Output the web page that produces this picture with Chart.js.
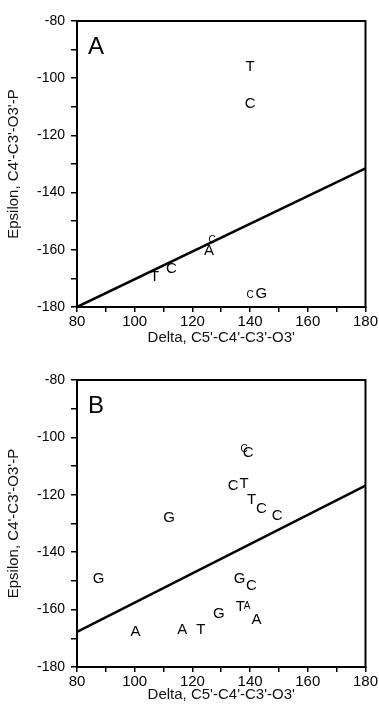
<!DOCTYPE html>
<html lang="en">
<head>
<meta charset="UTF-8">
<title>Delta vs Epsilon</title>
<script src="https://cdn.jsdelivr.net/npm/chart.js"></script>
<style>
    body { margin: 0; padding: 0; background: #fff; }
    .panel { width: 379px; height: 357px; }
</style>
</head>
<body>
<div class="panel"><canvas id="chartA" width="379" height="357"></canvas></div>
<div class="panel"><canvas id="chartB" width="379" height="357"></canvas></div>
<script>
// Panel A
const deltaA = [140, 140, 125.8, 106.9, 112.7, 143.9];
const epsilonA = [-96, -109, -160.5, -169.5, -166.5, -175.3];
const lettersA = ['T', 'C', 'A', 'T', 'C', 'G'];
const smallDeltaA = [140, 126.8];
const smallEpsilonA = [-176, -156.5];
const smallLettersA = ['C', 'C'];
const lineDeltaA = [80, 180];
const lineEpsilonA = [-180, -131.5];

// Panel B
const deltaB = [139.3, 134.1, 137.9, 140.5, 143.9, 149.4, 111.9, 87.5, 136.4, 140.5, 136.6, 142.2, 129.2, 100.3, 116.5, 122.9];
const epsilonB = [-105.5, -116.9, -116.3, -121.8, -124.9, -127.2, -128.1, -149.3, -149.4, -151.6, -159.2, -163.5, -161.6, -167.6, -167.2, -167.2];
const lettersB = ['C', 'C', 'T', 'T', 'C', 'C', 'G', 'G', 'G', 'C', 'T', 'A', 'G', 'A', 'A', 'T'];
const smallDeltaB = [137.9, 139.0];
const smallEpsilonB = [-104.1, -158.9];
const smallLettersB = ['C', 'A'];
const lineDeltaB = [80, 180];
const lineEpsilonB = [-167.8, -116.8];

const xTitle = "Delta, C5'-C4'-C3'-O3'";
const yTitle = "Epsilon, C4'-C3'-O3'-P";
const FONT = "'Liberation Sans', Arial, Helvetica, sans-serif";

function toPoints(xs, ys) {
    return xs.map((x, i) => ({ x: x, y: ys[i] }));
}

// draws the base letters at the positions the scales give each point
const letterPlugin = {
    id: 'letters',
    afterDatasetsDraw(chart) {
        const ctx = chart.ctx;
        ctx.save();
        ctx.fillStyle = '#000';
        ctx.textAlign = 'center';
        ctx.textBaseline = 'middle';
        chart.data.datasets.forEach((ds, i) => {
            if (!ds.letters) return;
            ctx.font = ds.letterSize + 'px ' + FONT;
            chart.getDatasetMeta(i).data.forEach((pt, j) => {
                ctx.fillText(ds.letters[j], pt.x, pt.y);
            });
        });
        const area = chart.chartArea;
        ctx.font = '24px ' + FONT;
        ctx.fillText(chart.options.plugins.letters.panel, area.left + 19, area.top + 26);
        ctx.restore();
    },
    afterDraw(chart) {
        const a = chart.chartArea;
        const ctx = chart.ctx;
        ctx.save();
        ctx.strokeStyle = '#000';
        ctx.lineWidth = 2;
        ctx.strokeRect(a.left, a.top, a.right - a.left, a.bottom - a.top);
        ctx.restore();
    }
};

function makeChart(id, panel, pts, letters, small, smallLetters, line, padTop, xHeight) {
    return new Chart(document.getElementById(id), {
        type: 'scatter',
        data: {
            datasets: [
                { type: 'line', data: line, borderColor: '#000', borderWidth: 2.5, pointRadius: 0, fill: false },
                { data: pts, pointRadius: 0, letters: letters, letterSize: 15 },
                { data: small, pointRadius: 0, letters: smallLetters, letterSize: 10 }
            ]
        },
        options: {
            responsive: false,
            animation: false,
            layout: { padding: { top: padTop, right: 13, left: 0, bottom: 0 } },
            plugins: {
                legend: { display: false },
                tooltip: { enabled: false },
                letters: { panel: panel }
            },
            scales: {
                x: {
                    type: 'linear', min: 80, max: 180,
                    ticks: {
                        stepSize: 10, autoSkip: false, maxRotation: 0, padding: 1,
                        color: '#000', font: { family: FONT, size: 15 },
                        callback: v => (v % 20 === 0 ? v : '')
                    },
                    grid: { drawOnChartArea: false, tickLength: 5, color: '#000', lineWidth: 1.5 },
                    border: { color: '#000', width: 2 },
                    title: {
                        display: true, text: xTitle, color: '#111',
                        font: { family: FONT, size: 15 }, padding: { top: 0, bottom: 10 }
                    },
                    afterFit: s => { s.height = xHeight; }
                },
                y: {
                    type: 'linear', min: -180, max: -80,
                    ticks: {
                        stepSize: 10, autoSkip: false, padding: 6,
                        color: '#000', font: { family: FONT, size: 14 },
                        callback: v => (v % 20 === 0 ? v : '')
                    },
                    grid: { drawOnChartArea: false, tickLength: 6, color: '#000', lineWidth: 1.5 },
                    border: { color: '#000', width: 2 },
                    title: {
                        display: true, text: yTitle, color: '#111',
                        font: { family: FONT, size: 15 }, padding: { top: 5, bottom: 0 }
                    },
                    afterFit: s => { s.width = 77; }
                }
            }
        },
        plugins: [letterPlugin]
    });
}

makeChart('chartA', 'A', toPoints(deltaA, epsilonA), lettersA,
    toPoints(smallDeltaA, smallEpsilonA), smallLettersA,
    toPoints(lineDeltaA, lineEpsilonA), 21, 50);
makeChart('chartB', 'B', toPoints(deltaB, epsilonB), lettersB,
    toPoints(smallDeltaB, smallEpsilonB), smallLettersB,
    toPoints(lineDeltaB, lineEpsilonB), 23, 47);
</script>
</body>
</html>
